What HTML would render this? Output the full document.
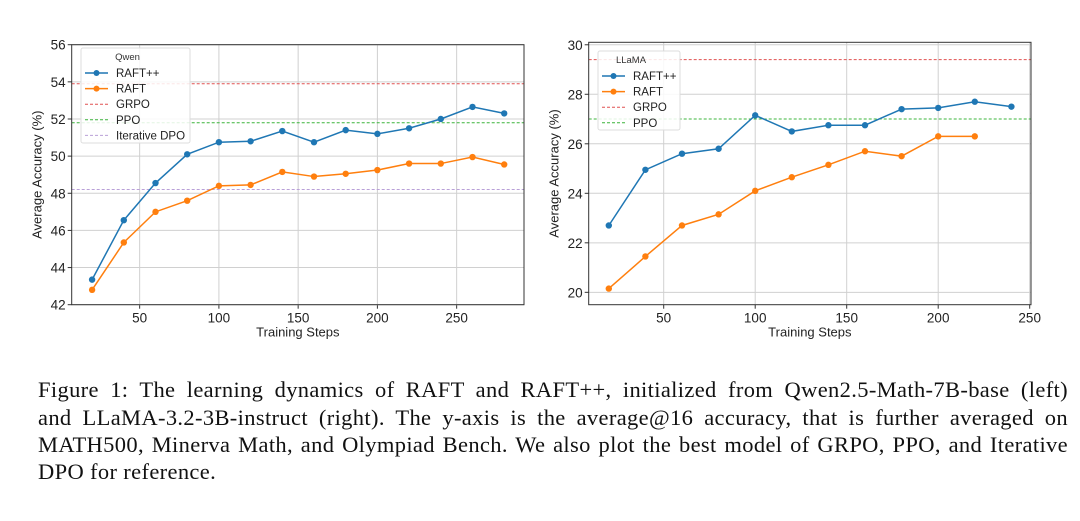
<!DOCTYPE html>
<html><head><meta charset="utf-8"><style>
body{margin:0;background:#fff;width:1080px;height:521px;overflow:hidden;position:relative;font-family:"Liberation Sans",sans-serif}
svg{position:absolute;left:0;top:0}
.cap{position:absolute;left:38px;width:1030px;font-family:"Liberation Serif",serif;font-size:22.5px;letter-spacing:0.35px;color:#111;line-height:27px;white-space:nowrap}
.j{text-align:justify;text-align-last:justify;white-space:normal}
</style></head><body>
<svg id="chart" width="1080" height="360" viewBox="0 0 1080 360"></svg>
<div class="cap j" style="top:376px">Figure 1: The learning dynamics of RAFT and RAFT++, initialized from Qwen2.5-Math-7B-base (left)</div>
<div class="cap j" style="top:404px">and LLaMA-3.2-3B-instruct (right). The y-axis is the average@16 accuracy, that is further averaged on</div>
<div class="cap j" style="top:431px">MATH500, Minerva Math, and Olympiad Bench. We also plot the best model of GRPO, PPO, and Iterative</div>
<div class="cap" style="top:458px">DPO for reference.</div>
<script>
const qwenSteps=[20,40,60,80,100,120,140,160,180,200,220,240,260,280];
const qwenRaftPP=[43.35,46.55,48.55,50.1,50.75,50.8,51.35,50.75,51.4,51.2,51.5,52.0,52.65,52.3];
const qwenRaft=[42.8,45.35,47.0,47.6,48.4,48.45,49.15,48.9,49.05,49.25,49.6,49.6,49.95,49.55];
const qwenRefNames=["GRPO","PPO","Iterative DPO"];
const qwenRefValues=[53.9,51.8,48.2];
const qwenYTicks=[42,44,46,48,50,52,54,56];
const qwenXTicks=[50,100,150,200,250];
const llamaStepsPP=[20,40,60,80,100,120,140,160,180,200,220,240];
const llamaRaftPP=[22.7,24.95,25.6,25.8,27.15,26.5,26.75,26.75,27.4,27.45,27.7,27.5];
const llamaStepsR=[20,40,60,80,100,120,140,160,180,200,220];
const llamaRaft=[20.15,21.45,22.7,23.15,24.1,24.65,25.15,25.7,25.5,26.3,26.3];
const llamaRefNames=["GRPO","PPO"];
const llamaRefValues=[29.4,27.0];
const llamaYTicks=[20,22,24,26,28,30];
const llamaXTicks=[50,100,150,200,250];

const NS="http://www.w3.org/2000/svg";
const svg=document.getElementById("chart");
function mk(tag,attrs,parent){const e=document.createElementNS(NS,tag);for(const k in attrs)e.setAttribute(k,attrs[k]);(parent||svg).appendChild(e);return e;}
const refColors={"GRPO":"#e05050","PPO":"#3cb43c","Iterative DPO":"#b9a0d8"};
const BLUE="#1f77b4",ORANGE="#ff7f0e";

function drawChart(cfg){
  const g=mk("g",{});
  
  
  const sx=v=>cfg.x0+(v-cfg.xmin)*(cfg.x1-cfg.x0)/(cfg.xmax-cfg.xmin);
  const sy=v=>cfg.y1-(v-cfg.ymin)*(cfg.y1-cfg.y0)/(cfg.ymax-cfg.ymin);
  cfg.xticks.forEach(t=>{
    const l=mk("line",{x1:sx(t),x2:sx(t),y1:cfg.y0,y2:cfg.y1,stroke:"#d0d0d0","stroke-width":1},g);
    
    
    mk("line",{x1:sx(t),x2:sx(t),y1:cfg.y1,y2:cfg.y1+4,stroke:"#333"},g);
    const tx=mk("text",{x:sx(t),y:cfg.y1+18,"text-anchor":"middle","font-size":13.5,fill:"#222"},g);
    tx.textContent=t;
    
    
  });
  cfg.yticks.forEach(t=>{
    const l=mk("line",{x1:cfg.x0,x2:cfg.x1,y1:sy(t),y2:sy(t),stroke:"#d0d0d0","stroke-width":1},g);
    
    
    mk("line",{x1:cfg.x0-4,x2:cfg.x0,y1:sy(t),y2:sy(t),stroke:"#333"},g);
    const tx=mk("text",{x:cfg.x0-6,y:sy(t)+5,"text-anchor":"end","font-size":13.5,fill:"#222"},g);
    tx.textContent=t;
    
    
  });
  cfg.refNames.forEach((n,i)=>{
    const l=mk("line",{x1:cfg.x0,x2:cfg.x1,y1:sy(cfg.refValues[i]),y2:sy(cfg.refValues[i]),stroke:refColors[n],"stroke-width":1,"stroke-dasharray":"3,2"},g);
    
    
  });
  cfg.series.forEach(s=>{
    const pts=s.xs.map((x,i)=>sx(x)+","+sy(s.ys[i])).join(" ");
    const pl=mk("polyline",{points:pts,fill:"none",stroke:s.color,"stroke-width":1.5},g);
    
    
    s.xs.forEach((x,i)=>{
      const c=mk("circle",{cx:sx(x),cy:sy(s.ys[i]),r:3.2,fill:s.color},g);
      
      
    });
  });
  const f=mk("rect",{x:cfg.x0,y:cfg.y0,width:cfg.x1-cfg.x0,height:cfg.y1-cfg.y0,fill:"none",stroke:"#333","stroke-width":1},g);
  
  
  const xt=mk("text",{x:(cfg.x0+cfg.x1)/2,y:cfg.y1+32,"text-anchor":"middle","font-size":13,fill:"#222"},g);
  xt.textContent="Training Steps";
  
  
  const yx=cfg.x0-30, yy=(cfg.y0+cfg.y1)/2;
  const yt=mk("text",{x:yx,y:yy,"text-anchor":"middle","font-size":13,fill:"#222",transform:`rotate(-90 ${yx} ${yy})`},g);
  yt.textContent="Average Accuracy (%)";
  
  
  const L=cfg.legend;
  const lg=mk("g",{},g);
  
  
  mk("rect",{x:L.x,y:L.y,width:L.w,height:L.h,rx:2,fill:"rgba(255,255,255,0.85)",stroke:"#ddd"},lg);
  const tt=mk("text",{x:L.x+L.w/2-L.titleShift,y:L.y+12,"text-anchor":"middle","font-size":9.5,fill:"#333"},lg);
  tt.textContent=cfg.title;
  
  
  const entries=cfg.series.map(s=>({n:s.label,c:s.color,m:true})).concat(cfg.refNames.map(n=>({n:n,c:refColors[n],m:false})));
  entries.forEach((e,i)=>{
    const y=L.y+25+i*15.6;
    const eg=mk("g",{},lg);
    
    
    if(e.m){mk("line",{x1:L.x+4,x2:L.x+27,y1:y,y2:y,stroke:e.c,"stroke-width":1.5},eg);mk("circle",{cx:L.x+15.5,cy:y,r:3,fill:e.c},eg);}
    else mk("line",{x1:L.x+4,x2:L.x+27,y1:y,y2:y,stroke:e.c,"stroke-width":1,"stroke-dasharray":"3,2"},eg);
    const t=mk("text",{x:L.x+35,y:y+4,"font-size":11.5,fill:"#222"},eg);
    t.textContent=e.n;
  });
}

drawChart({name:"qwen-chart",title:"Qwen",x0:71.7,x1:524,y0:44.7,y1:304.7,xmin:(71.7-60.4)/1.585,xmax:(524-60.4)/1.585,ymin:42,ymax:56,
  xticks:qwenXTicks,yticks:qwenYTicks,refNames:qwenRefNames,refValues:qwenRefValues,
  series:[{id:"raftpp",label:"RAFT++",color:BLUE,xs:qwenSteps,ys:qwenRaftPP},{id:"raft",label:"RAFT",color:ORANGE,xs:qwenSteps,ys:qwenRaft}],
  legend:{x:81,y:48,w:109,h:95,titleShift:8}});
drawChart({name:"llama-chart",title:"LLaMA",x0:588.7,x1:1031,y0:42.3,y1:304.7,xmin:(588.7-572.2)/1.83,xmax:(1031-572.2)/1.83,ymin:19.5,ymax:30.1,
  xticks:llamaXTicks,yticks:llamaYTicks,refNames:llamaRefNames,refValues:llamaRefValues,
  series:[{id:"raftpp",label:"RAFT++",color:BLUE,xs:llamaStepsPP,ys:llamaRaftPP},{id:"raft",label:"RAFT",color:ORANGE,xs:llamaStepsR,ys:llamaRaft}],
  legend:{x:598,y:51,w:82,h:79,titleShift:8}});
</script>
</body></html>
